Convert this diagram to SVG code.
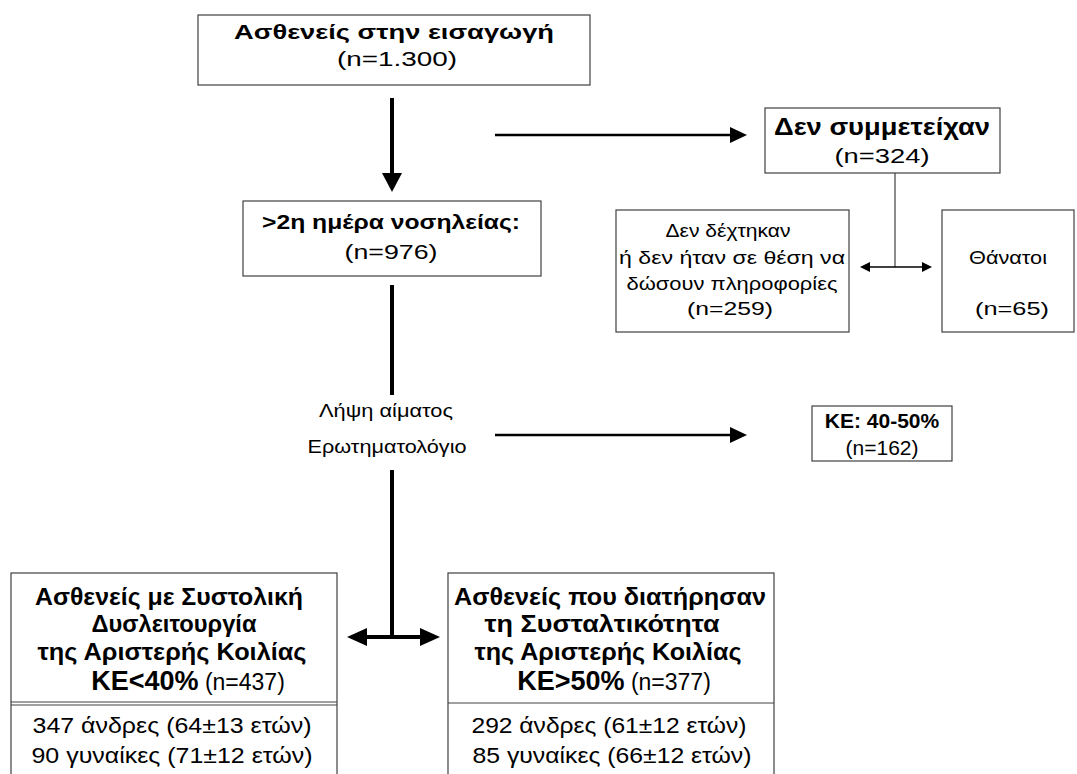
<svg xmlns="http://www.w3.org/2000/svg" width="1077" height="774" viewBox="0 0 1077 774">
<style>
.box{fill:#fff;stroke:#404040;stroke-width:1.2}
text{font-family:"Liberation Sans",Arial,sans-serif;fill:#000;text-anchor:middle}
.b{font-weight:bold}
.t21{font-size:21px}
.t18{font-size:18px}
.t19{font-size:19px}
.t23{font-size:23px}
.t22{font-size:22px}
.ln{stroke:#000;fill:none}
</style>
<rect width="1077" height="774" fill="#fff"/>
<g id="connectors">
<line class="ln" x1="392" y1="98" x2="392" y2="175" stroke-width="4"/>
<polygon points="382,173 402,173 392,192"/>
<line class="ln" x1="495" y1="135" x2="732" y2="135" stroke-width="2.5"/>
<polygon points="730,127 747,135 730,143"/>
<line x1="895" y1="173" x2="895" y2="267" stroke="#404040" stroke-width="1.2"/>
<line x1="868" y1="267" x2="924" y2="267" stroke="#000" stroke-width="1.5"/>
<polygon points="860,267 870,262 870,272"/>
<polygon points="932,267 922,262 922,272"/>
<line class="ln" x1="392" y1="285" x2="392" y2="395" stroke-width="4"/>
<line class="ln" x1="495" y1="435" x2="732" y2="435" stroke-width="2.5"/>
<polygon points="730,427 747,435 730,443"/>
<line class="ln" x1="392" y1="470" x2="392" y2="637" stroke-width="4"/>
<line class="ln" x1="365" y1="637" x2="422" y2="637" stroke-width="4"/>
<polygon points="347,637 367,628 367,646"/>
<polygon points="440,637 420,628 420,646"/>
</g>
<g id="n-admission">
<rect class="box" x="198" y="15" width="392" height="70"/>
<text class="b t21" x="394" y="39" textLength="320" lengthAdjust="spacingAndGlyphs">Ασθενείς στην εισαγωγή</text>
<text class="t21" x="397" y="66" textLength="120" lengthAdjust="spacingAndGlyphs">(n=1.300)</text>
</g>
<g id="n-day2">
<rect class="box" x="243" y="201" width="298" height="75"/>
<text class="b t21" x="391" y="229" textLength="258" lengthAdjust="spacingAndGlyphs">&gt;2η ημέρα νοσηλείας:</text>
<text class="t21" x="391" y="259" textLength="93" lengthAdjust="spacingAndGlyphs">(n=976)</text>
</g>
<g id="n-notpart">
<rect class="box" x="765" y="108" width="235" height="65"/>
<text class="b t23" x="882" y="135" textLength="216" lengthAdjust="spacingAndGlyphs">Δεν συμμετείχαν</text>
<text class="t21" x="882" y="163" textLength="95" lengthAdjust="spacingAndGlyphs">(n=324)</text>
</g>
<g id="n-refused">
<rect class="box" x="616" y="210" width="233" height="122"/>
<text class="t18" x="728" y="237" textLength="125" lengthAdjust="spacingAndGlyphs">Δεν δέχτηκαν</text>
<text class="t18" x="732" y="264" textLength="226" lengthAdjust="spacingAndGlyphs">ή δεν ήταν σε θέση να</text>
<text class="t18" x="732" y="290" textLength="211" lengthAdjust="spacingAndGlyphs">δώσουν πληροφορίες</text>
<text class="t18" x="730" y="315" textLength="86" lengthAdjust="spacingAndGlyphs">(n=259)</text>
</g>
<g id="n-deaths">
<rect class="box" x="942" y="210" width="132" height="122"/>
<text class="t18" x="1008" y="264" textLength="78" lengthAdjust="spacingAndGlyphs">Θάνατοι</text>
<text class="t18" x="1012" y="315" textLength="74" lengthAdjust="spacingAndGlyphs">(n=65)</text>
</g>
<g id="n-blood">
<text class="t19" x="386" y="417" textLength="134" lengthAdjust="spacingAndGlyphs">Λήψη αίματος</text>
<text class="t19" x="387" y="453" textLength="159" lengthAdjust="spacingAndGlyphs">Ερωτηματολόγιο</text>
</g>
<g id="n-ke4050">
<rect class="box" x="812" y="406" width="140" height="55"/>
<text class="b t21" x="882" y="428">ΚΕ: 40-50%</text>
<text class="t21" x="882" y="455">(n=162)</text>
</g>
<g id="n-systolic">
<rect class="box" x="11" y="573" width="326" height="210"/>
<line x1="11" y1="702" x2="337" y2="702" stroke="#404040" stroke-width="1"/>
<line x1="11" y1="705" x2="337" y2="705" stroke="#404040" stroke-width="1"/>
<text class="b t23" x="169" y="605" textLength="268" lengthAdjust="spacingAndGlyphs">Ασθενείς με Συστολική</text>
<text class="b t23" x="174" y="632" textLength="165" lengthAdjust="spacingAndGlyphs">Δυσλειτουργία</text>
<text class="b t23" x="172" y="660" textLength="269" lengthAdjust="spacingAndGlyphs">της Αριστερής Κοιλίας</text>
<text x="188" y="690"><tspan class="b" font-size="27px">ΚΕ&lt;40%</tspan><tspan font-size="23px"> (n=437)</tspan></text>
<text class="t22" x="172" y="733" textLength="279" lengthAdjust="spacingAndGlyphs">347 άνδρες (64±13 ετών)</text>
<text class="t22" x="172" y="763" textLength="281" lengthAdjust="spacingAndGlyphs">90 γυναίκες (71±12 ετών)</text>
</g>
<g id="n-preserved">
<rect class="box" x="448" y="573" width="326" height="210"/>
<line x1="448" y1="703" x2="774" y2="703" stroke="#404040" stroke-width="1"/>
<text class="b t23" x="610" y="605" textLength="312" lengthAdjust="spacingAndGlyphs">Ασθενείς που διατήρησαν</text>
<text class="b t23" x="602" y="632" textLength="235" lengthAdjust="spacingAndGlyphs">τη Συσταλτικότητα</text>
<text class="b t23" x="608" y="660" textLength="267" lengthAdjust="spacingAndGlyphs">της Αριστερής Κοιλίας</text>
<text x="614" y="690"><tspan class="b" font-size="27px">ΚΕ&gt;50%</tspan><tspan font-size="23px"> (n=377)</tspan></text>
<text class="t22" x="609" y="733" textLength="275" lengthAdjust="spacingAndGlyphs">292 άνδρες (61±12 ετών)</text>
<text class="t22" x="612" y="763" textLength="279" lengthAdjust="spacingAndGlyphs">85 γυναίκες (66±12 ετών)</text>
</g>
</svg>
